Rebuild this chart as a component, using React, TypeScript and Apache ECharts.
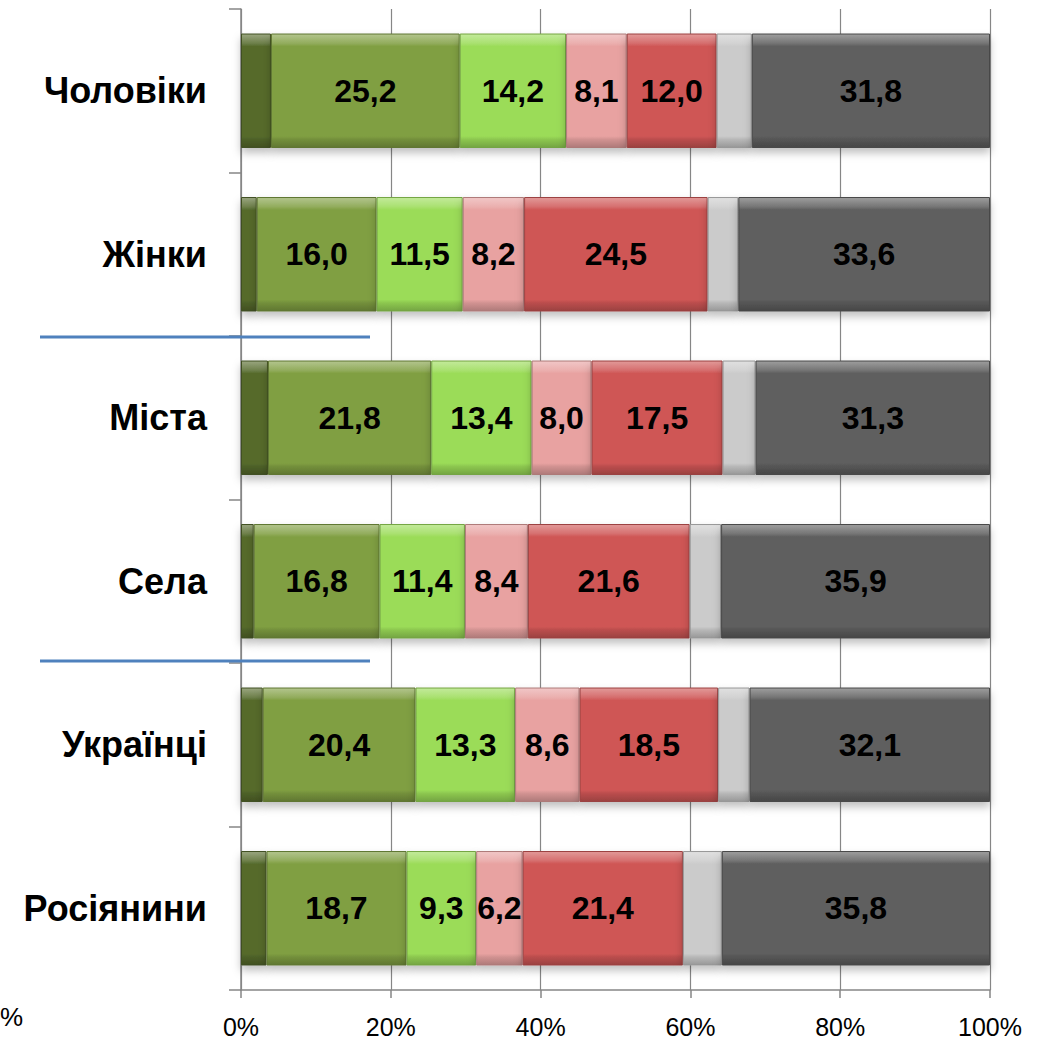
import React, { useEffect, useRef } from "react";
import * as echarts from "echarts";

const categories = ["Чоловіки", "Жінки", "Міста", "Села", "Українці", "Росіянини"];
const seriesDarkGreen = [4.0, 2.1, 3.6, 1.7, 2.9, 3.4];
const seriesGreen = [25.2, 16.0, 21.8, 16.8, 20.4, 18.7];
const seriesLightGreen = [14.2, 11.5, 13.4, 11.4, 13.3, 9.3];
const seriesPink = [8.1, 8.2, 8.0, 8.4, 8.6, 6.2];
const seriesRed = [12.0, 24.5, 17.5, 21.6, 18.5, 21.4];
const seriesLightGray = [4.7, 4.1, 4.4, 4.2, 4.2, 5.2];
const seriesDarkGray = [31.8, 33.6, 31.3, 35.9, 32.1, 35.8];
const xTicks = [0, 20, 40, 60, 80, 100];

const FONT = "'Liberation Sans', Arial, sans-serif";

function shade(hex: string, amt: number): string {
  const n = parseInt(hex.slice(1), 16);
  let r = (n >> 16) & 255, g = (n >> 8) & 255, b = n & 255;
  const f = (c: number) =>
    Math.max(0, Math.min(255, Math.round(amt >= 0 ? c + (255 - c) * amt : c * (1 + amt))));
  r = f(r); g = f(g); b = f(b);
  return "#" + ((1 << 24) + (r << 16) + (g << 8) + b).toString(16).slice(1);
}

function bevel(base: string) {
  return new echarts.graphic.LinearGradient(0, 0, 0, 1, [
    { offset: 0, color: shade(base, 0.4) },
    { offset: 0.08, color: shade(base, 0.15) },
    { offset: 0.11, color: base },
    { offset: 0.9, color: base },
    { offset: 0.93, color: shade(base, -0.1) },
    { offset: 1, color: shade(base, -0.25) },
  ]);
}

export default function App() {
  const ref = useRef<HTMLDivElement>(null);
  useEffect(() => {
    document.body.style.margin = "0";
    if (!ref.current) return;
    const chart = echarts.init(ref.current, null, { renderer: "svg" });
    const defs: [string, number[], string, boolean][] = [
      ["s1", seriesDarkGreen, "#566b2c", false],
      ["s2", seriesGreen, "#809f42", true],
      ["s3", seriesLightGreen, "#9bdc58", true],
      ["s4", seriesPink, "#e8a2a1", true],
      ["s5", seriesRed, "#cf5655", true],
      ["s6", seriesLightGray, "#cbcbcb", false],
      ["s7", seriesDarkGray, "#5e5e5e", true],
    ];
    chart.setOption({
      animation: false,
      grid: { left: 241, right: 55, top: 9, bottom: 53, containLabel: false },
      xAxis: {
        type: "value",
        min: xTicks[0],
        max: xTicks[xTicks.length - 1],
        interval: 20,
        axisLine: { show: true, lineStyle: { color: "#868686", width: 1.5 } },
        axisTick: { show: true, length: 8, lineStyle: { color: "#868686", width: 1.5 } },
        splitLine: { show: true, lineStyle: { color: "#868686", width: 1.2 } },
        axisLabel: {
          formatter: "{value}%",
          color: "#000",
          fontSize: 25,
          fontFamily: FONT,
          margin: 24,
        },
      },
      yAxis: {
        type: "category",
        inverse: true,
        data: categories,
        axisLine: { show: true, lineStyle: { color: "#868686", width: 1.5 } },
        axisTick: { show: true, length: 12, lineStyle: { color: "#868686", width: 1.5 } },
        axisLabel: {
          color: "#000",
          fontSize: 36,
          fontWeight: "bold",
          fontFamily: FONT,
          margin: 34,
        },
      },
      series: defs.map(([name, data, color, showLabel]) => ({
        name,
        type: "bar",
        stack: "total",
        data,
        barCategoryGap: "30%",
        itemStyle: {
          color: bevel(color),
          borderColor: shade(color, -0.25),
          borderWidth: 1,
          shadowBlur: 8,
          shadowOffsetY: 5,
          shadowColor: "rgba(0,0,0,0.25)",
        },
        label: {
          show: showLabel,
          position: "inside",
          color: "#000",
          fontSize: 32,
          fontWeight: "bold",
          fontFamily: FONT,
          formatter: (p: any) => p.value.toFixed(1).replace(".", ","),
        },
      })),
      graphic: [
        {
          type: "line",
          z: 100,
          shape: { x1: 40, y1: 337, x2: 370, y2: 337 },
          style: { stroke: "#4f81bd", lineWidth: 3 },
        },
        {
          type: "line",
          z: 100,
          shape: { x1: 40, y1: 661, x2: 370, y2: 661 },
          style: { stroke: "#4f81bd", lineWidth: 3 },
        },
        {
          type: "text",
          x: 0,
          y: 1004,
          style: { text: "%", fontSize: 26, fontFamily: FONT, fill: "#000" },
        },
      ],
    });
    return () => chart.dispose();
  }, []);
  return <div ref={ref} style={{ width: 1045, height: 1043 }} />;
}
